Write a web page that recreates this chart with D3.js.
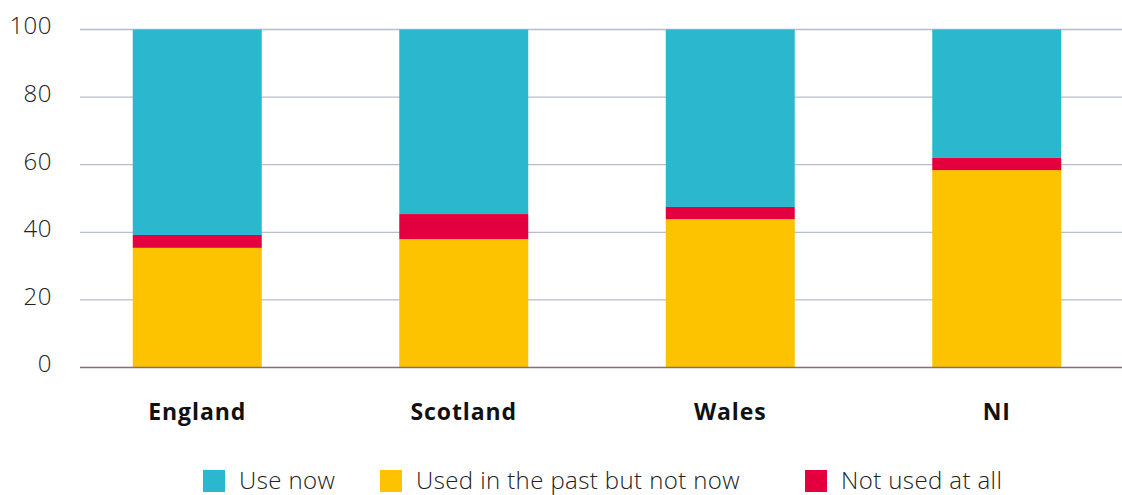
<!DOCTYPE html>
<html>
<head>
<meta charset="utf-8">
<script src="https://cdn.jsdelivr.net/npm/d3@7"></script>
<style>
	body { margin: 0; background: #fff; }
	svg { display: block; font-family: "Open Sans", Lato, sans-serif; }
</style>
</head>
<body>
<svg id="chart" width="1122" height="495"></svg>
<script>
"use strict";

// data
var categories = ['England', 'Scotland', 'Wales', 'NI'];
var usedPast = [35.4, 38.0, 43.9, 58.4];
var notUsed = [3.8, 7.4, 3.6, 3.6];
var useNow = [60.8, 54.6, 52.5, 38.0];
var yTicks = [0, 20, 40, 60, 80, 100];
var seriesNames = ['Use now', 'Used in the past but not now', 'Not used at all'];

var colors = {
	useNow: '#2bb7ce',
	usedPast: '#fdc300',
	notUsed: '#e4003f',
	grid: '#b9bdcc',
	axis: '#8c6878',
	text: '#222'
};

var svg = d3.select('#chart');

var x = d3.scaleBand()
	.domain(categories)
	.range([64, 1130])
	.paddingInner(0.516)
	.paddingOuter(0.258);

var y = d3.scaleLinear()
	.domain([0, 100])
	.range([367.5, 29.5]);

// gridlines
svg.append('g')
	.selectAll('line')
	.data(yTicks.filter(function(d){ return d > 0; }))
	.join('line')
	.attr('x1', 80)
	.attr('x2', 1122)
	.attr('y1', function(d){ return y(d); })
	.attr('y2', function(d){ return y(d); })
	.attr('stroke', colors.grid)
	.attr('stroke-width', 1.3);

// y labels
svg.append('g')
	.selectAll('text')
	.data(yTicks)
	.join('text')
	.attr('x', 52)
	.attr('y', function(d){ return y(d); })
	.attr('dy', '0.2em')
	.attr('text-anchor', 'end')
	.attr('font-size', 24)
	.attr('font-weight', 300)
	.attr('letter-spacing', 0.5)
	.attr('fill', colors.text)
	.text(function(d){ return d; });

// stacked bars
var rows = categories.map(function(c, i){
	return { cat: c, usedPast: usedPast[i], notUsed: notUsed[i], useNow: useNow[i] };
});
var stack = d3.stack().keys(['usedPast', 'notUsed', 'useNow']);
var layers = stack(rows);

svg.append('g')
	.selectAll('g')
	.data(layers)
	.join('g')
	.attr('fill', function(d){ return colors[d.key]; })
	.selectAll('rect')
	.data(function(d){ return d; })
	.join('rect')
	.attr('x', function(d){ return x(d.data.cat); })
	.attr('width', x.bandwidth())
	.attr('y', function(d){ return y(Math.min(d[1], 100)); })
	.attr('height', function(d){ return y(d[0]) - y(Math.min(d[1], 100)); });

// baseline
svg.append('line')
	.attr('x1', 80)
	.attr('x2', 1122)
	.attr('y1', y(0))
	.attr('y2', y(0))
	.attr('stroke', colors.axis)
	.attr('stroke-width', 1.5);

// category labels
svg.append('g')
	.selectAll('text')
	.data(categories)
	.join('text')
	.attr('x', function(d){ return x(d) + x.bandwidth() / 2; })
	.attr('y', 420)
	.attr('text-anchor', 'middle')
	.attr('font-size', 23)
	.attr('font-weight', 700)
	.attr('letter-spacing', 0.9)
	.attr('fill', '#111')
	.text(function(d){ return d; });

// legend
var legendX = [203, 380, 805];
var legendColors = [colors.useNow, colors.usedPast, colors.notUsed];
var legend = svg.append('g')
	.selectAll('g')
	.data(seriesNames)
	.join('g')
	.attr('transform', function(d, i){ return 'translate(' + legendX[i] + ',470)'; });

legend.append('rect')
	.attr('width', 22)
	.attr('height', 22)
	.attr('fill', function(d, i){ return legendColors[i]; });

legend.append('text')
	.attr('x', 36)
	.attr('y', 19)
	.attr('font-size', 24)
	.attr('font-weight', 300)
	.attr('letter-spacing', 0.4)
	.attr('fill', colors.text)
	.text(function(d){ return d; });
</script>
</body>
</html>
